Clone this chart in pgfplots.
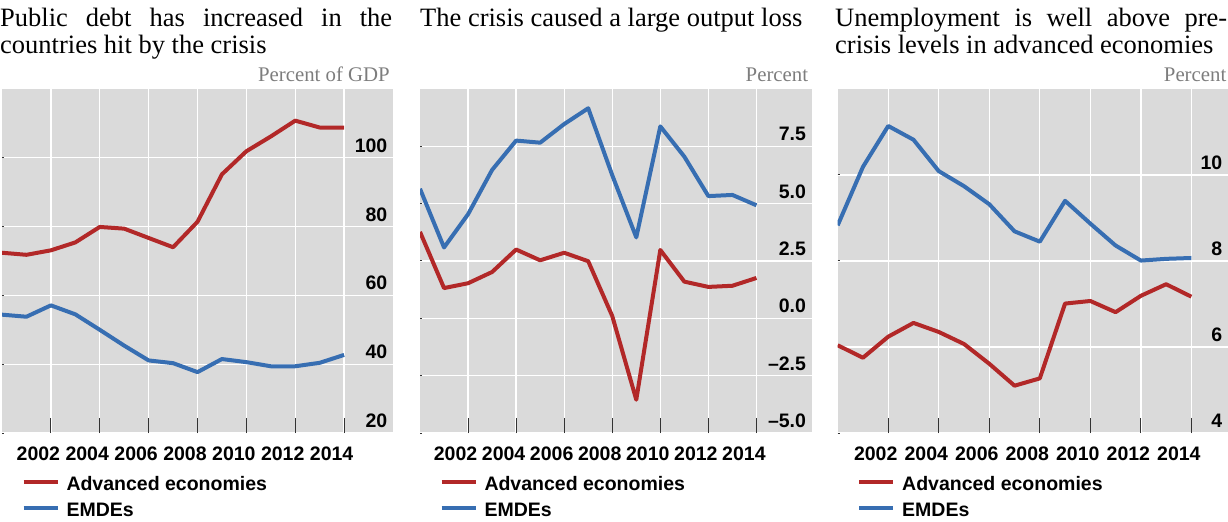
\documentclass[border=0pt]{standalone}
\usepackage{fontspec}
\setmainfont{Liberation Serif}
\newfontfamily\lsans{Liberation Sans}
\usepackage{pgfplots}
\pgfplotsset{compat=1.18}
\definecolor{adv}{RGB}{178,40,40}
\definecolor{emd}{RGB}{55,110,178}
\definecolor{bg}{RGB}{218,218,218}
\definecolor{unitgray}{RGB}{125,125,125}
\newcommand{\tickfont}{\lsans\bfseries\fontsize{19.5bp}{22bp}\selectfont}
\newcommand{\titlefont}{\fontsize{26.5bp}{26.5bp}\selectfont}
\newcommand{\unitfont}{\fontsize{20.8bp}{22bp}\selectfont}
\pgfplotsset{
  panel/.style={
    scale only axis, height=344bp,
    anchor=south west,
    axis background/.style={fill=bg},
    axis line style={draw=none},
    xmin=2000,
    xtick={2002,2004,...,2014},
    xticklabels={2002,2004,2006,2008,2010,2012,2014},
    xtick pos=bottom, ytick pos=left, yticklabel pos=right,
    tick align=inside,
    xmajorgrids, ymajorgrids,
    major grid style={white, line width=1.3bp},
    xtick style={draw=black!80, line width=1bp, /pgfplots/major tick length=15bp},
    ytick style={draw=black!80, line width=1bp, /pgfplots/major tick length=2bp},
    xticklabel style={font=\tickfont, anchor=base, inner sep=0pt, yshift=-27.7bp, xshift=-12.5bp},
    yticklabel style={font=\tickfont, anchor=base east, inner sep=0pt, xshift=-5.5bp, yshift=5.5bp},
    legend style={at={(0,0)}, anchor=north west, xshift=19.5bp, yshift=-42bp,
      draw=none, fill=none, inner sep=0pt, outer sep=0pt, font=\tickfont, row sep=0bp,
      nodes={inner sep=0pt, text height=15bp, text depth=11bp},
      /tikz/every odd column/.append style={column sep=7bp}},
    legend cell align=left,
    legend image code/.code={\draw[##1, line width=4bp] (0bp,6bp) -- (34bp,6bp);},
  },
  ser/.style={line width=4bp, line join=round},
}
\begin{document}
\begin{tikzpicture}
\path[use as bounding box] (0,0) rectangle (1228bp,522bp);
% titles
\node[anchor=base west, inner sep=0pt, align=left, font=\titlefont] at (0bp,468.7bp)
  {\makebox[392bp][s]{Public debt has increased in the}\\countries hit by the crisis};
\node[anchor=base west, inner sep=0pt, font=\titlefont] at (420bp,495.3bp)
  {The crisis caused a large output loss};
\node[anchor=base west, inner sep=0pt, align=left, font=\titlefont] at (835bp,468.7bp)
  {\makebox[392bp][s]{Unemployment is well above pre-}\\crisis levels in advanced economies};
% units
\node[anchor=base east, inner sep=0pt, font=\unitfont, text=unitgray] at (390bp,440bp) {Percent of GDP};
\node[anchor=base east, inner sep=0pt, font=\unitfont, text=unitgray] at (808.3bp,440bp) {Percent};
\node[anchor=base east, inner sep=0pt, font=\unitfont, text=unitgray] at (1226.5bp,440bp) {Percent};

\begin{axis}[panel, at={(2bp,89bp)}, width=391bp, xmax=2016,
  ymin=20, ymax=120, ytick={20,40,60,80,100}, yticklabels={20,40,60,80,100}]
\addplot[ser, adv] coordinates {(2000,72.4)(2001,71.8)(2002,73.1)(2003,75.4)(2004,79.9)(2005,79.4)(2006,76.7)(2007,74.0)(2008,81.4)(2009,95.2)(2010,101.9)(2011,106.2)(2012,110.8)(2013,108.8)(2014,108.8)};
\addplot[ser, emd] coordinates {(2000,54.4)(2001,53.8)(2002,57.1)(2003,54.5)(2004,50.0)(2005,45.4)(2006,41.1)(2007,40.3)(2008,37.7)(2009,41.5)(2010,40.6)(2011,39.4)(2012,39.4)(2013,40.4)(2014,42.7)};
\legend{Advanced economies, EMDEs}
\end{axis}

\begin{axis}[panel, at={(420bp,89bp)}, width=391.7bp, xmax=2016.3,
  ymin=-5, ymax=10, ytick={-5,-2.5,0,2.5,5,7.5}, yticklabels={–5.0,–2.5,0.0,2.5,5.0,7.5},
  extra y ticks={0}, extra y tick labels={},
  extra y tick style={grid style={black, line width=0.9bp}, tick style={draw=none}}]
\addplot[ser, adv] coordinates {(2000,3.77)(2001,1.32)(2002,1.53)(2003,2.02)(2004,3.0)(2005,2.53)(2006,2.86)(2007,2.49)(2008,0.1)(2009,-3.55)(2010,2.98)(2011,1.6)(2012,1.37)(2013,1.42)(2014,1.76)};
\addplot[ser, emd] coordinates {(2000,5.65)(2001,3.09)(2002,4.54)(2003,6.47)(2004,7.75)(2005,7.66)(2006,8.47)(2007,9.16)(2008,6.24)(2009,3.53)(2010,8.37)(2011,7.05)(2012,5.33)(2013,5.38)(2014,4.93)};
\legend{Advanced economies, EMDEs}
\end{axis}

\begin{axis}[panel, at={(837.7bp,89bp)}, width=390.3bp, xmax=2015.45,
  ymin=4, ymax=12, ytick={4,6,8,10}, yticklabels={4,6,8,10}]
\addplot[ser, adv] coordinates {(2000,6.04)(2001,5.75)(2002,6.24)(2003,6.56)(2004,6.35)(2005,6.07)(2006,5.61)(2007,5.10)(2008,5.27)(2009,7.01)(2010,7.07)(2011,6.81)(2012,7.19)(2013,7.46)(2014,7.17)};
\addplot[ser, emd] coordinates {(2000,8.83)(2001,10.19)(2002,11.14)(2003,10.82)(2004,10.09)(2005,9.74)(2006,9.32)(2007,8.69)(2008,8.45)(2009,9.40)(2010,8.87)(2011,8.36)(2012,8.01)(2013,8.05)(2014,8.07)};
\legend{Advanced economies, EMDEs}
\end{axis}
\end{tikzpicture}
\end{document}
